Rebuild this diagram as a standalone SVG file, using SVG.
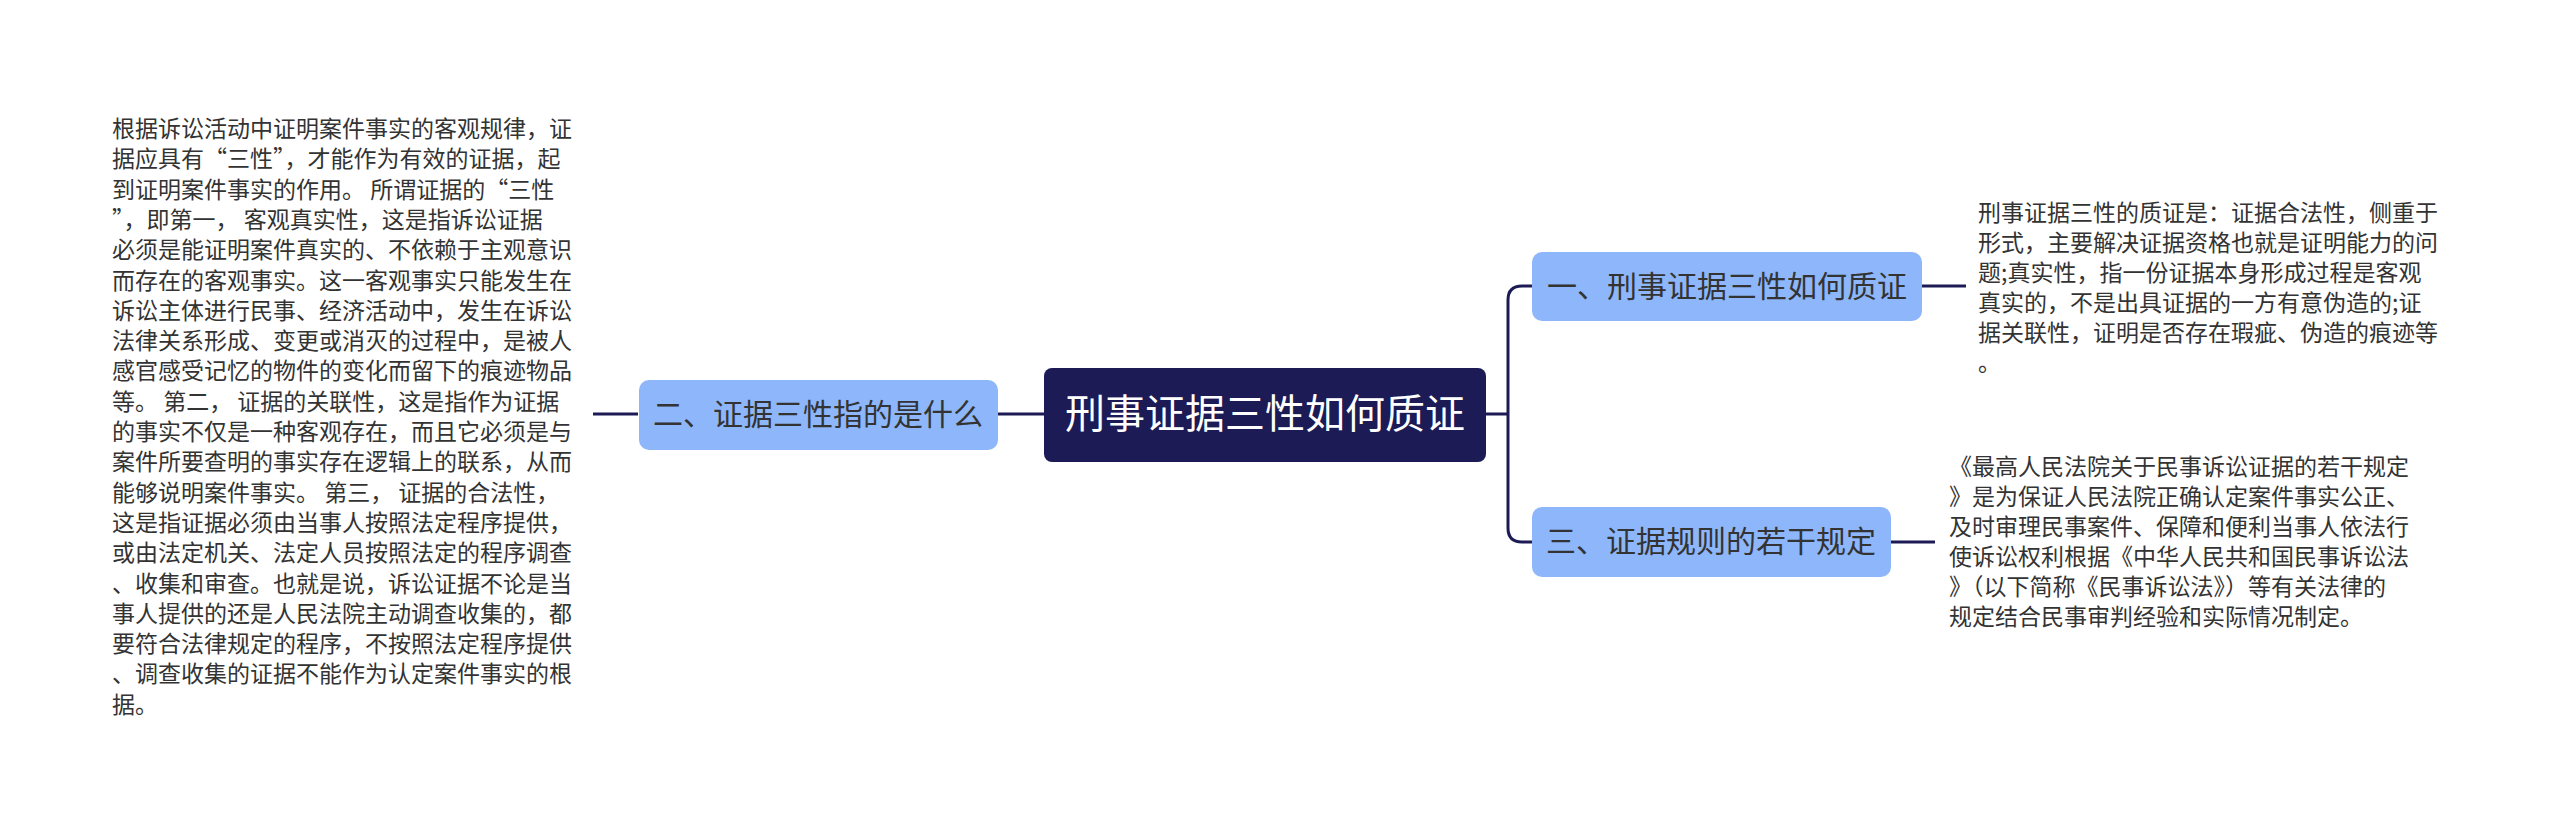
<svg xmlns="http://www.w3.org/2000/svg" width="2560" height="829" viewBox="0 0 2560 829">
<style>
.t{font-family:"Noto Sans CJK SC","Liberation Sans",sans-serif;font-size:23px;fill:#333}
.n{font-family:"Noto Sans CJK SC","Liberation Sans",sans-serif;font-size:30px;fill:#333}
.c{fill:none;stroke:#1c1b55;stroke-width:3}
</style>
<rect width="2560" height="829" fill="#fff"/>
<g id="connectors">
<path class="c" d="M1486 414H1508M1532 286H1522Q1508 286 1508 300V528Q1508 542 1522 542H1532"/>
<path class="c" d="M998 414H1044M593 414H638M1922 286H1966M1891 542H1935"/>
</g>
<g id="root">
<rect x="1044" y="368" width="442" height="94" rx="8" fill="#1c1b55"/>
<text x="1265" y="428" text-anchor="middle" font-family="Noto Sans CJK SC,sans-serif" font-size="40" fill="#fff">刑事证据三性如何质证</text>
</g>
<g id="n2">
<rect x="639" y="380" width="359" height="70" rx="10" fill="#8db7fa"/>
<text class="n" x="818" y="425" text-anchor="middle">二、证据三性指的是什么</text>
</g>
<g id="n1">
<rect x="1532" y="252" width="390" height="69" rx="10" fill="#8db7fa"/>
<text class="n" x="1727" y="297" text-anchor="middle">一、刑事证据三性如何质证</text>
</g>
<g id="n3">
<rect x="1532" y="507" width="359" height="70" rx="10" fill="#8db7fa"/>
<text class="n" x="1711" y="552" text-anchor="middle">三、证据规则的若干规定</text>
</g>
<g id="left-text" class="t">
<text x="112" y="137">根据诉讼活动中证明案件事实的客观规律，证</text>
<text x="112" y="167.3">据应具有“三性”，才能作为有效的证据，起</text>
<text x="112" y="197.6">到证明案件事实的作用。 所谓证据的“三性</text>
<text x="112" y="227.9">”，即第一， 客观真实性，这是指诉讼证据</text>
<text x="112" y="258.2">必须是能证明案件真实的、不依赖于主观意识</text>
<text x="112" y="288.5">而存在的客观事实。这一客观事实只能发生在</text>
<text x="112" y="318.8">诉讼主体进行民事、经济活动中，发生在诉讼</text>
<text x="112" y="349.1">法律关系形成、变更或消灭的过程中，是被人</text>
<text x="112" y="379.4">感官感受记忆的物件的变化而留下的痕迹物品</text>
<text x="112" y="409.7">等。 第二， 证据的关联性，这是指作为证据</text>
<text x="112" y="440">的事实不仅是一种客观存在，而且它必须是与</text>
<text x="112" y="470.3">案件所要查明的事实存在逻辑上的联系，从而</text>
<text x="112" y="500.6">能够说明案件事实。 第三， 证据的合法性，</text>
<text x="112" y="530.9">这是指证据必须由当事人按照法定程序提供，</text>
<text x="112" y="561.2">或由法定机关、法定人员按照法定的程序调查</text>
<text x="112" y="591.5">、收集和审查。也就是说，诉讼证据不论是当</text>
<text x="112" y="621.8">事人提供的还是人民法院主动调查收集的，都</text>
<text x="112" y="652.1">要符合法律规定的程序，不按照法定程序提供</text>
<text x="112" y="682.4">、调查收集的证据不能作为认定案件事实的根</text>
<text x="112" y="712.7">据。</text>
</g>
<g id="right-text-1" class="t">
<text x="1978" y="221">刑事证据三性的质证是：证据合法性，侧重于</text>
<text x="1978" y="251">形式，主要解决证据资格也就是证明能力的问</text>
<text x="1978" y="281">题;真实性，指一份证据本身形成过程是客观</text>
<text x="1978" y="311">真实的，不是出具证据的一方有意伪造的;证</text>
<text x="1978" y="341">据关联性，证明是否存在瑕疵、伪造的痕迹等</text>
<text x="1978" y="371">。</text>
</g>
<g id="right-text-3" class="t">
<text x="1949" y="475">《最高人民法院关于民事诉讼证据的若干规定</text>
<text x="1949" y="505">》是为保证人民法院正确认定案件事实公正、</text>
<text x="1949" y="535">及时审理民事案件、保障和便利当事人依法行</text>
<text x="1949" y="565">使诉讼权利根据《中华人民共和国民事诉讼法</text>
<text x="1949" y="595">》（以下简称《民事诉讼法》）等有关法律的</text>
<text x="1949" y="625">规定结合民事审判经验和实际情况制定。</text>
</g>
</svg>
